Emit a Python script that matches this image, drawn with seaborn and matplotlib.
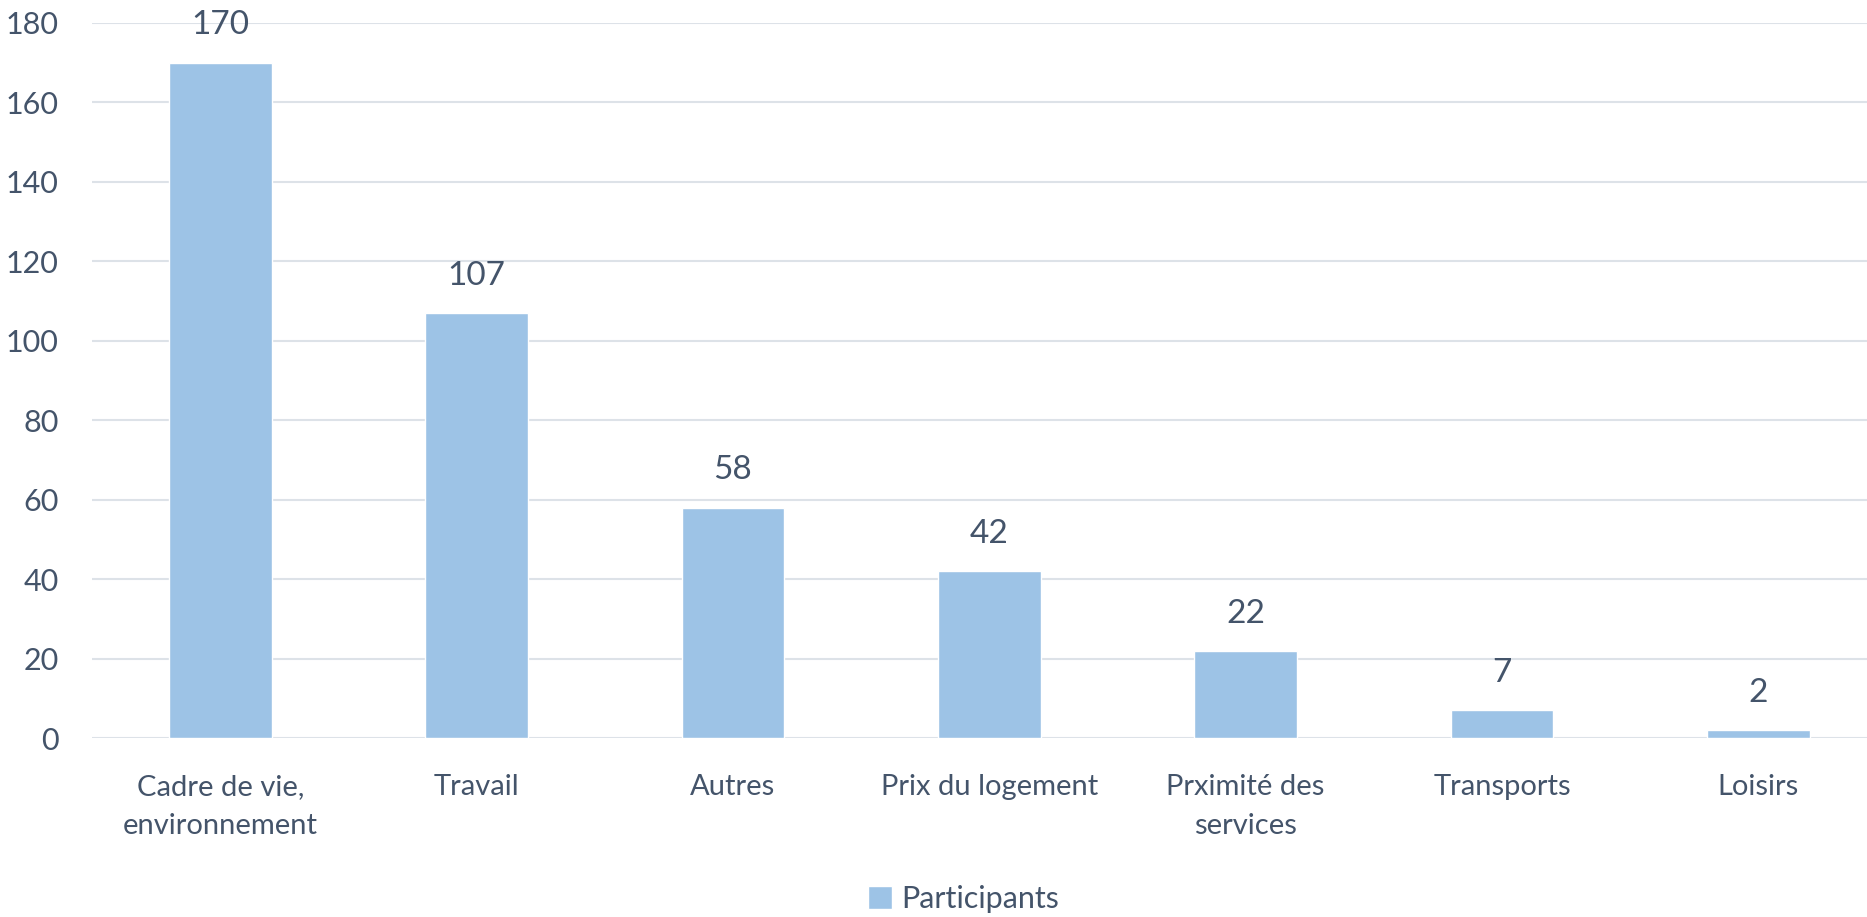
import pandas as pd
import matplotlib
matplotlib.use("Agg")
import matplotlib.pyplot as plt
import seaborn as sns

categories = ["Cadre de vie,\nenvironnement", "Travail", "Autres", "Prix du logement",
              "Prximité des\nservices", "Transports", "Loisirs"]
participants = [170, 107, 58, 42, 22, 7, 2]
series_name = "Participants"
y_ticks = [0, 20, 40, 60, 80, 100, 120, 140, 160, 180]

df = pd.DataFrame({"categorie": categories, "valeur": participants, "serie": series_name})

text_col = "#44546A"
bar_col = "#9DC3E6"
grid_col = "#DDE2E8"

sns.set_style("white")
plt.rcParams["font.family"] = ["Lato", "DejaVu Sans"]

fig = plt.figure(figsize=(18.67, 9.17), dpi=100)
ax = fig.add_axes([0.0494, 0.195, 0.961, 0.78])

sns.barplot(data=df, x="categorie", y="valeur", hue="serie", palette=[bar_col],
            saturation=1, width=0.4, ax=ax, legend=True)

ax.set_ylim(0, 180)
ax.set_yticks(y_ticks)
ax.set_xlim(-0.5, len(categories) - 0.5)
ax.yaxis.grid(True, color=grid_col, linewidth=1.5)
ax.set_axisbelow(True)
for s in ax.spines.values():
    s.set_visible(False)
ax.set_xlabel("")
ax.set_ylabel("")
ax.tick_params(axis="y", length=0, pad=24, labelsize=22, labelcolor=text_col)
ax.tick_params(axis="x", length=0, pad=26, labelsize=21, labelcolor=text_col)
for lbl in ax.get_xticklabels():
    lbl.set_linespacing(1.6)

for i, v in enumerate(participants):
    ax.annotate(str(v), (i, v), xytext=(0, 16), textcoords="offset points",
                ha="center", va="bottom", fontsize=24, color=text_col)

ax.get_legend().remove()
handles, labels = ax.get_legend_handles_labels()
fig.legend(handles[:1], [series_name], loc="lower center", bbox_to_anchor=(0.516, -0.026),
           frameon=False, fontsize=22, labelcolor=text_col, handlelength=0.8,
           handleheight=0.8, handletextpad=0.3)

fig.savefig("out.png", dpi=100)
